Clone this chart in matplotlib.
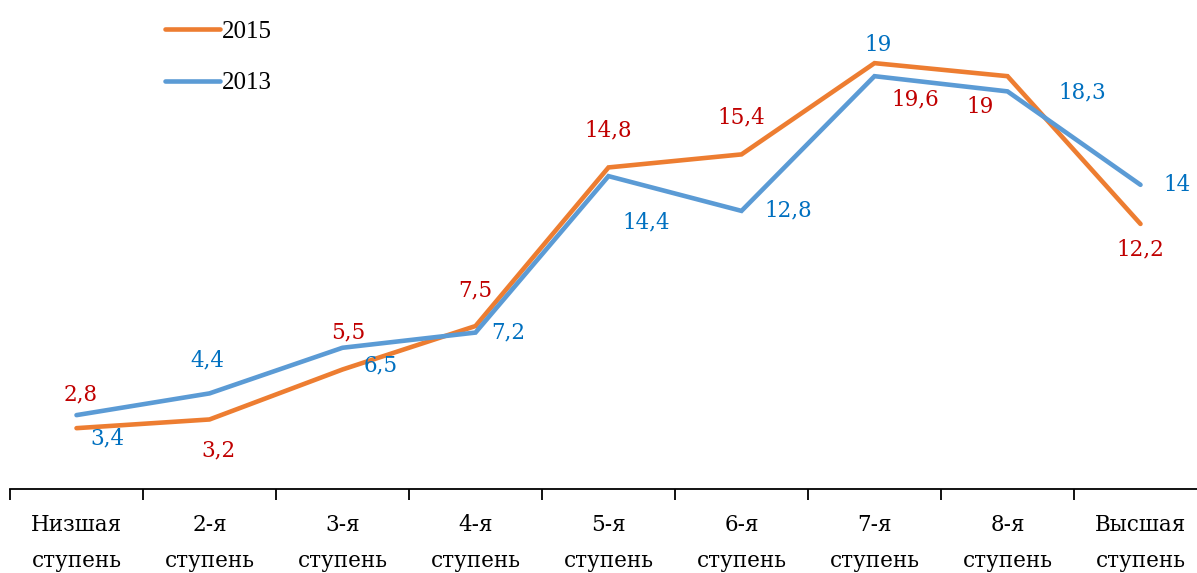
import matplotlib
matplotlib.use("Agg")
import matplotlib.pyplot as plt

categories = ["Низшая\nступень", "2-я\nступень", "3-я\nступень", "4-я\nступень", "5-я\nступень",
              "6-я\nступень", "7-я\nступень", "8-я\nступень", "Высшая\nступень"]
values_2015 = [2.8, 3.2, 5.5, 7.5, 14.8, 15.4, 19.6, 19.0, 12.2]
values_2013 = [3.4, 4.4, 6.5, 7.2, 14.4, 12.8, 19.0, 18.3, 14.0]
labels_2015 = ["2,8", "3,2", "5,5", "7,5", "14,8", "15,4", "19,6", "19", "12,2"]
labels_2013 = ["3,4", "4,4", "6,5", "7,2", "14,4", "12,8", "19", "18,3", "14"]

# label offsets in pixels (dx, dy) with dy positive = up
off_2015 = [(4, 34), (9, -31), (6, 37), (0, 36), (0, 37), (0, 37), (41, -36), (-27, -31), (0, -26)]
off_2013 = [(31, -23), (-2, 33), (38, -18), (33, 0), (38, -46), (47, 0), (4, 31), (75, -1), (37, 0)]

c15 = "#ED7D31"
c13 = "#5B9BD5"
t15 = "#C00000"
t13 = "#0070C0"

W, H = 1197, 573
fig = plt.figure(figsize=(W / 100, H / 100), dpi=100)
ax = fig.add_axes([10 / W, 1 - 489 / H, 1197 / W, (489 - 11) / H])

x = list(range(len(categories)))
ax.plot(x, values_2015, color=c15, lw=3.3, label="2015", solid_capstyle="round", solid_joinstyle="miter", zorder=3)
ax.plot(x, values_2013, color=c13, lw=3.3, label="2013", solid_capstyle="round", solid_joinstyle="miter", zorder=3)

for xi, v, lab, (dx, dy) in zip(x, values_2015, labels_2015, off_2015):
    ax.annotate(lab, (xi, v), xytext=(dx, dy), textcoords="offset pixels", ha="center", va="center",
                color=t15, fontsize=15.5, family="DejaVu Serif")
for xi, v, lab, (dx, dy) in zip(x, values_2013, labels_2013, off_2013):
    ax.annotate(lab, (xi, v), xytext=(dx, dy), textcoords="offset pixels", ha="center", va="center",
                color=t13, fontsize=15.5, family="DejaVu Serif")

ax.set_xlim(-0.5, len(categories) - 0.5)
ax.set_ylim(0, 22)
for s in ["top", "right", "left"]:
    ax.spines[s].set_visible(False)
ax.spines["bottom"].set_linewidth(1.3)
ax.set_yticks([])

ax.set_xticks([i - 0.5 for i in range(len(categories) + 1)])
ax.set_xticklabels([])
ax.set_xticks(x, minor=True)
ax.set_xticklabels(categories, minor=True, fontsize=15.5, family="DejaVu Serif", linespacing=1.8)
ax.tick_params(axis="x", which="major", length=8, width=1.3, direction="out")
ax.tick_params(axis="x", which="minor", length=0, pad=18)

leg = ax.legend(loc="upper left", bbox_to_anchor=(142 / W, 1 + 2 / H), bbox_transform=fig.transFigure,
                frameon=False, prop={"family": "Liberation Serif", "size": 18},
                handlelength=2.2, handletextpad=0.1, labelspacing=1.15)

fig.savefig("out.png", dpi=100)
